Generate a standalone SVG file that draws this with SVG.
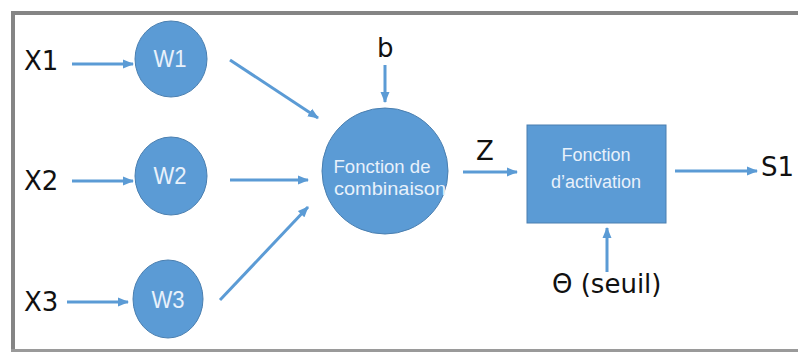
<svg xmlns="http://www.w3.org/2000/svg" width="798" height="352" viewBox="0 0 798 352">
<defs>
<marker id="ah" markerUnits="userSpaceOnUse" markerWidth="12" markerHeight="10" refX="10" refY="5" orient="auto">
<path d="M0,0.5 L11,5 L0,9.5 z" fill="#5b9bd5"/>
</marker>
<style>
.frame{fill:#858585}
.node{fill:#5b9bd5;stroke:#4a7fb0;stroke-width:1}
.lbl{font-family:"DejaVu Sans",sans-serif;font-size:26px;fill:#111}
.nl{font-family:"Liberation Sans",Arial,sans-serif;fill:#e8f1fb;text-anchor:middle}
.conn line{stroke:#5b9bd5;stroke-width:3;marker-end:url(#ah)}
</style>
</defs>
<rect width="798" height="352" fill="#ffffff"/>
<g id="frame">
<rect class="frame" x="11" y="11" width="787" height="4"/>
<rect class="frame" x="11" y="11" width="4" height="341"/>
<rect x="11" y="349" width="787" height="3" fill="#9a9a9a"/>
</g>
<g id="X1"><text class="lbl" x="24" y="70">X1</text></g>
<g id="X2"><text class="lbl" x="24" y="190">X2</text></g>
<g id="X3"><text class="lbl" x="24" y="311">X3</text></g>
<g id="W1"><ellipse class="node" cx="171" cy="59" rx="36" ry="38"/><text class="nl" x="170" y="67" font-size="24" textLength="33" lengthAdjust="spacingAndGlyphs">W1</text></g>
<g id="W2"><ellipse class="node" cx="171" cy="176" rx="36" ry="39"/><text class="nl" x="170" y="184" font-size="24" textLength="33" lengthAdjust="spacingAndGlyphs">W2</text></g>
<g id="W3"><ellipse class="node" cx="168" cy="299" rx="35" ry="39"/><text class="nl" x="168" y="308" font-size="24" textLength="33" lengthAdjust="spacingAndGlyphs">W3</text></g>
<g id="b"><text class="lbl" x="377" y="57">b</text></g>
<g id="combinaison"><circle class="node" cx="385" cy="171" r="63"/>
<text class="nl" x="382" y="173" font-size="19" textLength="97" lengthAdjust="spacingAndGlyphs">Fonction de</text>
<text class="nl" x="390" y="195" font-size="19" textLength="112" lengthAdjust="spacingAndGlyphs">combinaison</text></g>
<g id="Z"><text class="lbl" x="476" y="160">Z</text></g>
<g id="activation"><rect x="527" y="125" width="139" height="98" fill="#5b9bd5" stroke="#4a7fb0" stroke-width="1"/>
<text class="nl" x="596" y="161" font-size="18">Fonction</text>
<text class="nl" x="596" y="188" font-size="18">d’activation</text></g>
<g id="S1"><text class="lbl" x="761" y="176">S1</text></g>
<g id="seuil"><text class="lbl" x="552" y="293">Θ (seuil)</text></g>
<g id="connectors" class="conn">
<line x1="72" y1="64" x2="133" y2="64"/>
<line x1="72" y1="181" x2="133" y2="181"/>
<line x1="67" y1="302" x2="128" y2="302"/>
<line x1="230" y1="60" x2="318" y2="118"/>
<line x1="230" y1="180" x2="308" y2="180"/>
<line x1="220" y1="300" x2="308" y2="207"/>
<line x1="385" y1="65" x2="385" y2="102"/>
<line x1="463" y1="172" x2="517" y2="172"/>
<line x1="675" y1="171" x2="757" y2="171"/>
<line x1="607" y1="272" x2="607" y2="228"/>
</g>
</svg>
